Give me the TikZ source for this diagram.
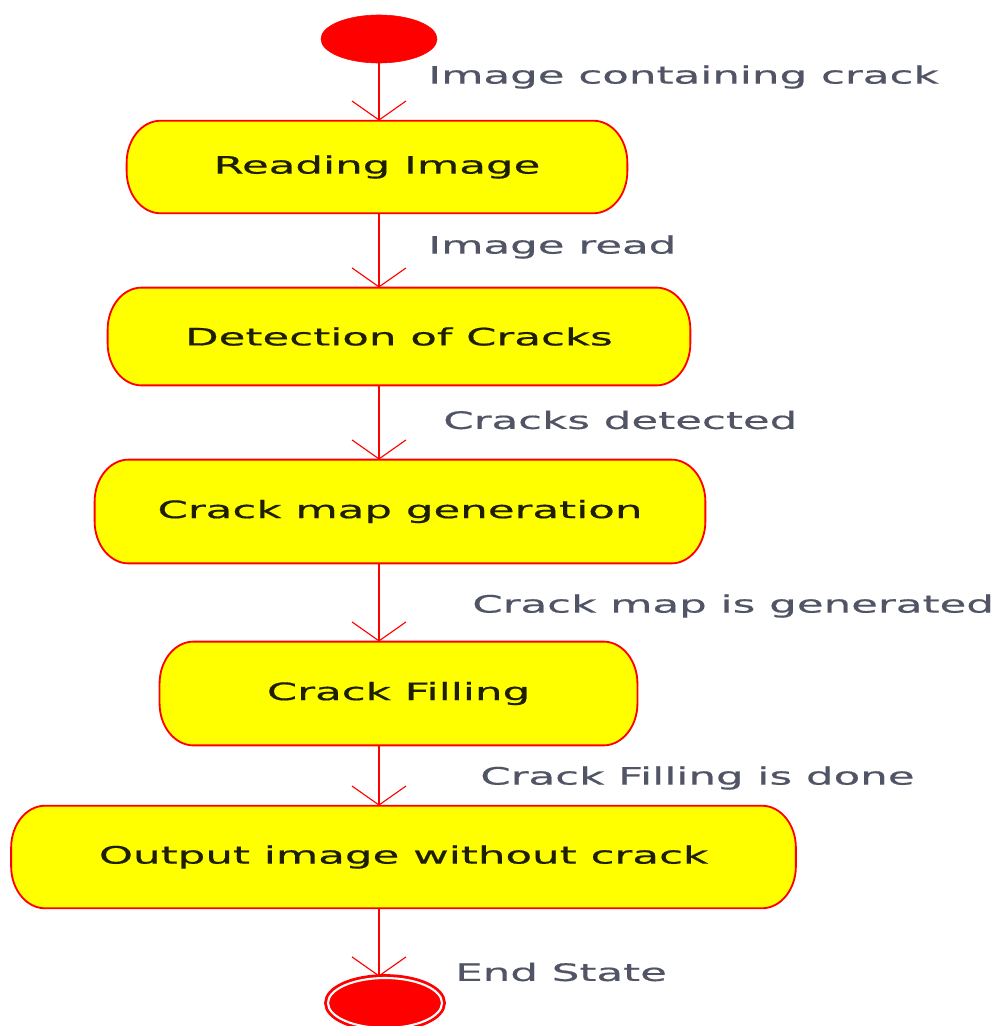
\documentclass[tikz,border=0pt]{standalone}
\usepackage{fontspec}
\setmainfont{DejaVu Sans}[FakeStretch=1.82, FakeBold=0.6]
\usetikzlibrary{arrows.meta,shapes.geometric,backgrounds}
\begin{document}
\begin{tikzpicture}[x=0.025cm,y=-0.025cm,
    state/.style={inner sep=0pt, text=boxtext, font=\fontsize{17}{20}\selectfont},
    outline/.style={draw=red, fill=yellow, line width=1.3pt},
    flow/.style={draw=red, line width=1.8pt,
        -{Straight Barb[length=0.475cm, width=1.35cm, line width=0.8pt]}},
    note/.style={anchor=west, inner sep=0pt, text=notetext,
        font=\fontsize{17}{20}\selectfont}]
    % Define colors
    \definecolor{boxtext}{RGB}{30, 30, 0}
    \definecolor{notetext}{RGB}{80, 84, 100}
    \definecolor{yellow}{RGB}{255, 255, 0}

    \useasboundingbox (0,0) rectangle (999,1026);

    % Start and end states
    \node[ellipse, fill=red, draw=red, minimum width=2.9cm, minimum height=1.2cm] (s) at (379, 39) {};
    \node[ellipse, fill=red, draw=red, line width=2pt, double=white, double distance=1.5pt,
        minimum width=2.85cm, minimum height=1.25cm] (e) at (385, 1003) {};

    % Activities
    \node[state, minimum width=12.5cm, minimum height=2.3cm] (b1) at (377, 167) {Reading Image};
    \node[state, minimum width=14.55cm, minimum height=2.43cm] (b2) at (399, 336.5) {Detection of Cracks};
    \node[state, minimum width=15.25cm, minimum height=2.58cm] (b3) at (400, 511.5) {Crack map generation};
    \node[state, minimum width=11.93cm, minimum height=2.58cm] (b4) at (398.5, 693.5) {Crack Filling};
    \node[state, minimum width=19.6cm, minimum height=2.55cm] (b5) at (403.5, 857) {Output image without crack};

    % Rounded outlines behind the activities
    \begin{scope}[on background layer]
        \foreach \b in {b1,b2,b3,b4,b5}
            \draw[outline] ([xshift=-0.85cm]\b.north east)
                arc[start angle=90, end angle=0, x radius=0.85cm, y radius=1.05cm]
                -- ([yshift=1.05cm]\b.south east)
                arc[start angle=0, end angle=-90, x radius=0.85cm, y radius=1.05cm]
                -- ([xshift=0.85cm]\b.south west)
                arc[start angle=270, end angle=180, x radius=0.85cm, y radius=1.05cm]
                -- ([yshift=-1.05cm]\b.north west)
                arc[start angle=180, end angle=90, x radius=0.85cm, y radius=1.05cm]
                -- cycle;
    \end{scope}

    % Transitions
    \draw[flow] (s.south) -- (b1.north -| s.south);
    \draw[flow] (b1.south -| s) -- (b2.north -| s);
    \draw[flow] (b2.south -| s) -- (b3.north -| s);
    \draw[flow] (b3.south -| s) -- (b4.north -| s);
    \draw[flow] (b4.south -| s) -- (b5.north -| s);
    \draw[flow] (b5.south -| s) -- (e.north -| s);

    % Transition labels
    \node[note] (l1) at (428, 77) {Image containing crack};
    \node[note] (l2) at (428, 247) {Image read};
    \node[note] (l3) at (443, 420) {Cracks detected};
    \node[note] (l4) at (472, 606) {Crack map is generated};
    \node[note] (l5) at (480, 778) {Crack Filling is done};
    \node[note] (l6) at (455, 972) {End State};
\end{tikzpicture}
\end{document}
